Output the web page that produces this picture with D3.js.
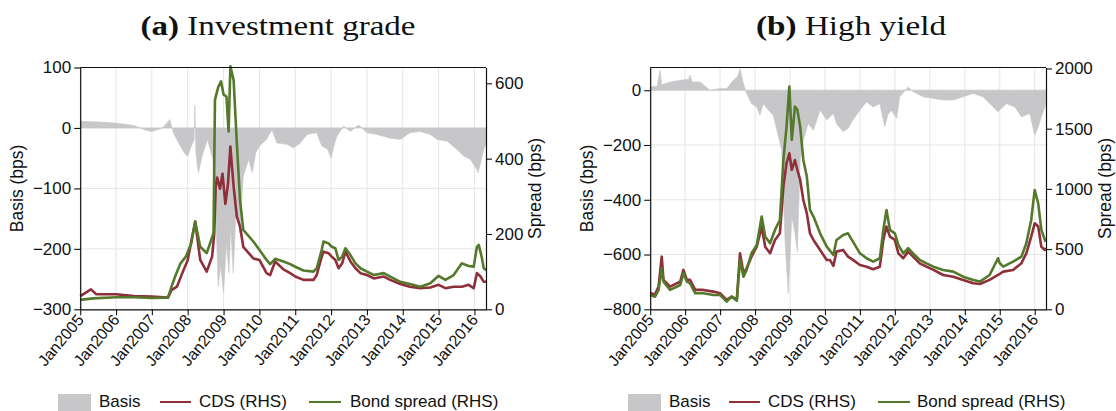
<!DOCTYPE html>
<html><head><meta charset="utf-8">
<script src="https://cdn.jsdelivr.net/npm/d3@7"></script>
<style>
html,body{margin:0;padding:0;background:#fff;}
svg{display:block;}
</style></head>
<body>
<svg id="chart" width="1116" height="411"></svg>
<script>
// ---------- DATA (time = years since Jan 2005, values in bps) ----------
const yearTicks = [2005,2006,2007,2008,2009,2010,2011,2012,2013,2014,2015,2016];
const tickLabels = yearTicks.map(y => "Jan" + y);
const legendLabels = ["Basis", "CDS (RHS)", "Bond spread (RHS)"];
const titles = [["(a)", "Investment grade"], ["(b)", "High yield"]];

const igBasis = [[0,11],[0.5,10],[1.0,8],[1.5,4],[1.8,-3],[2.0,-6],[2.3,0],[2.5,14],[2.6,-8],[2.75,-25],[2.9,-41],[3.0,-47],[3.1,-30],[3.18,-20],[3.2,38],[3.23,-40],[3.27,-63],[3.3,-74],[3.4,-47],[3.55,-19],[3.7,-52],[3.78,-135],[3.85,-262],[3.92,-228],[4.0,-273],[4.08,-190],[4.15,-240],[4.2,-163],[4.27,-240],[4.35,-135],[4.45,-174],[4.55,-80],[4.7,-52],[4.8,-74],[4.9,-41],[5.0,-30],[5.2,-19],[5.35,-3],[5.49,-25],[5.77,-27],[5.95,-33],[6.14,-25],[6.33,-11],[6.6,-8],[6.74,-30],[6.9,-35],[7.0,-50],[7.1,-25],[7.16,-14],[7.35,3],[7.54,-6],[7.77,5],[8.0,-8],[8.28,-11],[8.65,-17],[8.93,-19],[9.2,-8],[9.49,-6],[9.77,-11],[9.96,-19],[10.24,-22],[10.52,-36],[10.71,-47],[10.89,-52],[11.07,-69],[11.1,-74],[11.17,-58],[11.26,-36],[11.33,-25]];
const igCds = [[0.0,35],[0.3,53],[0.45,40],[1.0,40],[1.5,35],[2.0,34],[2.45,31],[2.55,51],[2.7,60],[2.85,96],[3.0,130],[3.1,180],[3.21,233],[3.35,131],[3.53,100],[3.68,140],[3.74,200],[3.78,326],[3.82,350],[3.9,320],[3.97,360],[4.05,280],[4.12,330],[4.19,432],[4.28,326],[4.37,246],[4.46,220],[4.55,166],[4.83,135],[5.0,131],[5.2,96],[5.3,91],[5.44,127],[5.67,106],[5.86,96],[6.0,87],[6.23,78],[6.51,78],[6.6,91],[6.74,140],[6.79,153],[6.93,149],[7.02,140],[7.12,131],[7.21,109],[7.31,122],[7.4,153],[7.54,127],[7.68,109],[7.82,96],[8.0,91],[8.19,82],[8.47,87],[8.65,78],[8.93,67],[9.2,60],[9.49,56],[9.77,58],[10.0,65],[10.19,56],[10.42,60],[10.65,60],[10.84,65],[10.98,56],[11.07,96],[11.17,87],[11.26,73],[11.33,73]];
const igBond = [[0,25],[0.36,29],[1.0,32],[1.5,32],[2.0,30],[2.45,31],[2.55,60],[2.65,87],[2.8,122],[2.95,140],[3.1,175],[3.21,233],[3.35,166],[3.53,149],[3.72,202],[3.76,556],[3.85,590],[3.93,605],[4.0,570],[4.08,565],[4.14,472],[4.19,645],[4.28,609],[4.37,441],[4.46,290],[4.55,211],[4.83,180],[5.0,158],[5.2,131],[5.3,120],[5.44,134],[5.67,127],[5.86,120],[6.0,113],[6.23,103],[6.51,100],[6.6,109],[6.74,158],[6.79,180],[6.93,175],[7.02,166],[7.12,162],[7.21,131],[7.31,140],[7.4,162],[7.54,144],[7.68,122],[7.82,109],[8.0,100],[8.19,91],[8.47,96],[8.65,87],[8.93,73],[9.2,67],[9.49,60],[9.77,69],[10.0,89],[10.19,78],[10.42,91],[10.65,122],[10.84,115],[10.98,113],[11.07,166],[11.12,171],[11.2,140],[11.26,109],[11.33,104]];

const hyBasis = [[0,12],[0.2,15],[0.28,73],[0.33,20],[0.57,30],[0.86,36],[1.1,40],[1.14,55],[1.2,30],[1.43,30],[1.71,0],[2.0,6],[2.19,6],[2.38,36],[2.5,50],[2.57,79],[2.67,24],[2.76,-12],[2.9,-49],[3.05,-61],[3.14,-91],[3.24,-49],[3.38,-73],[3.52,-91],[3.67,-170],[3.76,-219],[3.86,-560],[3.95,-742],[4.05,-462],[4.14,-523],[4.21,-590],[4.29,-255],[4.38,-182],[4.52,-122],[4.67,-146],[4.86,-73],[5.05,-109],[5.24,-85],[5.33,-122],[5.52,-152],[5.66,-140],[5.8,-109],[6.0,-73],[6.19,-43],[6.38,-61],[6.57,-49],[6.71,-134],[6.8,-90],[6.9,-73],[7.05,-103],[7.14,-24],[7.38,12],[7.52,-6],[7.81,-24],[8.1,-30],[8.38,-36],[8.67,-36],[8.95,-24],[9.24,-12],[9.52,-24],[9.81,-61],[9.95,-79],[10.19,-49],[10.43,-61],[10.62,-97],[10.86,-85],[11.0,-164],[11.1,-134],[11.19,-97],[11.29,-61],[11.31,-50]];
const hyCds = [[0,133],[0.14,125],[0.24,188],[0.33,437],[0.38,244],[0.57,188],[0.86,230],[0.95,327],[1.05,244],[1.14,244],[1.29,161],[1.52,161],[1.81,147],[2.0,133],[2.19,78],[2.33,105],[2.48,83],[2.57,465],[2.67,299],[2.76,340],[2.9,437],[3.05,520],[3.19,687],[3.29,520],[3.43,465],[3.57,576],[3.71,631],[3.81,1019],[3.9,1213],[3.98,1296],[4.05,1157],[4.14,1240],[4.21,1157],[4.29,1074],[4.38,908],[4.48,797],[4.57,631],[4.67,576],[4.86,493],[5.05,410],[5.14,410],[5.24,360],[5.33,479],[5.52,493],[5.66,437],[5.8,410],[6.0,368],[6.19,354],[6.38,332],[6.57,354],[6.67,576],[6.76,687],[6.86,604],[7.0,576],[7.1,465],[7.24,424],[7.38,479],[7.52,437],[7.71,382],[7.9,354],[8.1,327],[8.38,285],[8.67,271],[8.95,244],[9.24,216],[9.43,210],[9.71,244],[9.95,285],[10.1,313],[10.38,327],[10.62,382],[10.76,465],[10.9,604],[11.0,714],[11.1,687],[11.19,520],[11.29,493],[11.31,510]];
const hyBond = [[0,119],[0.14,105],[0.24,161],[0.33,340],[0.38,230],[0.57,161],[0.86,202],[0.95,299],[1.05,230],[1.14,216],[1.29,133],[1.52,133],[1.81,119],[2.0,119],[2.19,64],[2.33,105],[2.48,72],[2.57,410],[2.67,271],[2.76,327],[2.9,465],[3.05,534],[3.19,770],[3.29,604],[3.43,548],[3.57,659],[3.71,742],[3.81,1240],[3.9,1517],[3.98,1849],[4.05,1406],[4.14,1683],[4.21,1656],[4.29,1517],[4.38,1240],[4.48,1102],[4.57,825],[4.67,770],[4.86,631],[5.05,520],[5.24,451],[5.33,576],[5.52,617],[5.66,631],[5.8,562],[6.0,465],[6.19,424],[6.38,396],[6.57,424],[6.67,659],[6.76,825],[6.86,659],[7.0,631],[7.1,534],[7.24,465],[7.38,507],[7.52,465],[7.71,410],[7.9,382],[8.1,354],[8.38,327],[8.67,313],[8.95,271],[9.24,244],[9.43,230],[9.71,285],[9.95,424],[10.0,382],[10.1,354],[10.38,396],[10.62,437],[10.76,548],[10.9,742],[11.0,991],[11.1,880],[11.19,659],[11.29,576],[11.31,560]];

const igLeftTicks = [-300,-200,-100,0,100];
const igRightTicks = [0,200,400,600];
const hyLeftTicks = [-800,-600,-400,-200,0];
const hyRightTicks = [0,500,1000,1500,2000];

// ---------- helpers ----------
function toDate(t){
  const yr = 2005 + t, y = Math.floor(yr);
  const s = new Date(y,0,1), e = new Date(y+1,0,1);
  return new Date(+s + (yr - y)*(e - s));
}
const SANS = "'Liberation Sans', Arial, Helvetica, sans-serif";
const SERIF = "'Liberation Serif', 'Times New Roman', serif";
const COL = {basis:"#c7c7c9", cds:"#8e2f39", bond:"#55792b", grid:"#e5e5e5", axis:"#111", text:"#111"};
const svg = d3.select("#chart");

function panel(cfg){
  const {x0,x1,y0,y1} = cfg;
  const x = d3.scaleTime().domain([new Date(2005,0,1), new Date(2016,3,28)]).range([x0,x1]);
  const yL = d3.scaleLinear().domain(cfg.leftDomain).range([y1,y0]);
  const yR = d3.scaleLinear().domain(cfg.rightDomain).range([y1,y0]);
  const g = svg.append("g");
  const tickDates = yearTicks.map(y => new Date(y,0,1));

  // grid
  g.append("g").selectAll("line").data(tickDates).join("line")
    .attr("x1",d=>x(d)).attr("x2",d=>x(d)).attr("y1",y0).attr("y2",y1)
    .attr("stroke",COL.grid).attr("stroke-width",1);
  g.append("g").selectAll("line").data(cfg.leftTicks).join("line")
    .attr("x1",x0).attr("x2",x1).attr("y1",d=>yL(d)).attr("y2",d=>yL(d))
    .attr("stroke",COL.grid).attr("stroke-width",1);

  // basis area
  const area = d3.area().x(d=>x(toDate(d[0]))).y0(yL(0)).y1(d=>yL(d[1]));
  g.append("path").datum(cfg.basis).attr("d",area).attr("fill",COL.basis).attr("stroke",COL.basis).attr("stroke-width",0.6);

  // lines
  const lineR = d3.line().x(d=>x(toDate(d[0]))).y(d=>yR(d[1]));
  g.append("path").datum(cfg.cds).attr("d",lineR).attr("fill","none").attr("stroke",COL.cds).attr("stroke-width",2.6).attr("stroke-linejoin","round");
  g.append("path").datum(cfg.bond).attr("d",lineR).attr("fill","none").attr("stroke",COL.bond).attr("stroke-width",2.6).attr("stroke-linejoin","round");

  // frame top
  g.append("line").attr("x1",x0).attr("x2",x1).attr("y1",y0).attr("y2",y0).attr("stroke",COL.axis).attr("stroke-width",1.2);

  // axes
  const ax = g.append("g").attr("transform",`translate(0,${y1})`)
    .call(d3.axisBottom(x).tickValues(tickDates).tickFormat((d,i)=>tickLabels[i]).tickSize(6).tickSizeOuter(0));
  ax.selectAll("text").style("font-family",SANS).style("font-size","16px").attr("fill",COL.text)
    .attr("text-anchor","end").attr("dy",0).attr("y",0)
    .attr("transform","translate(4,11) rotate(-50)");
  const al = g.append("g").attr("transform",`translate(${x0},0)`)
    .call(d3.axisLeft(yL).tickValues(cfg.leftTicks).tickFormat(d3.format("d")).tickSize(6).tickSizeOuter(0));
  al.selectAll("text").style("font-family",SANS).style("font-size","17px").attr("fill",COL.text).attr("x",-9);
  const ar = g.append("g").attr("transform",`translate(${x1},0)`)
    .call(d3.axisRight(yR).tickValues(cfg.rightTicks).tickFormat(d3.format("d")).tickSize(6).tickSizeOuter(0));
  ar.selectAll("text").style("font-family",SANS).style("font-size","17px").attr("fill",COL.text).attr("x",9);
  [ax,al,ar].forEach(a=>{a.select(".domain").attr("stroke",COL.axis).attr("stroke-width",1.2);
    a.selectAll(".tick line").attr("stroke",COL.axis).attr("stroke-width",1.1);});

  // axis titles
  g.append("text").attr("transform",`translate(${cfg.lLabX},${(y0+y1)/2}) rotate(-90)`)
    .attr("text-anchor","middle").style("font-family",SANS).style("font-size","17.5px").attr("fill",COL.text).text("Basis (bps)");
  g.append("text").attr("transform",`translate(${cfg.rLabX},${(y0+y1)/2}) rotate(-90)`)
    .attr("text-anchor","middle").style("font-family",SANS).style("font-size","17.5px").attr("fill",COL.text).text("Spread (bps)");

  // title
  const t = g.append("text").attr("x",cfg.titleX).attr("y",35).attr("text-anchor","middle")
    .style("font-family",SERIF).style("font-size","28px").attr("fill",COL.text)
    .attr("textLength",cfg.titleW).attr("lengthAdjust","spacingAndGlyphs");
  t.append("tspan").style("font-weight","bold").text(cfg.title[0]);
  t.append("tspan").style("font-weight","normal").text(" " + cfg.title[1]);

  // legend
  const lg = g.append("g");
  const L = cfg.legend;
  const lt = (xx, s) => lg.append("text").attr("x",xx).attr("y",406.5).style("font-family",SANS).style("font-size","17px").attr("fill",COL.text).text(s);
  lg.append("rect").attr("x",L[0]).attr("y",394).attr("width",33).attr("height",18).attr("fill",COL.basis);
  lt(L[1], legendLabels[0]);
  lg.append("line").attr("x1",L[2]).attr("x2",L[2]+31).attr("y1",402).attr("y2",402).attr("stroke",COL.cds).attr("stroke-width",2);
  lt(L[3], legendLabels[1]);
  lg.append("line").attr("x1",L[4]).attr("x2",L[4]+32).attr("y1",402).attr("y2",402).attr("stroke",COL.bond).attr("stroke-width",2);
  lt(L[5], legendLabels[2]);
}

panel({x0:80.2,x1:486,y0:67.5,y1:309.3,leftDomain:[-300,100],rightDomain:[0,642],
  leftTicks:igLeftTicks,rightTicks:igRightTicks,basis:igBasis,cds:igCds,bond:igBond,
  lLabX:23,rLabX:541,titleX:278,titleW:275,title:titles[0],legend:[58,99,160,199,309,350]});
panel({x0:650.2,x1:1046,y0:67.5,y1:309.3,leftDomain:[-800,83],rightDomain:[0,2008],
  leftTicks:hyLeftTicks,rightTicks:hyRightTicks,basis:hyBasis,cds:hyCds,bond:hyBond,
  lLabX:593,rLabX:1111,titleX:851,titleW:190,title:titles[1],legend:[628,669,729,768,878,917]});
</script>
</body></html>
